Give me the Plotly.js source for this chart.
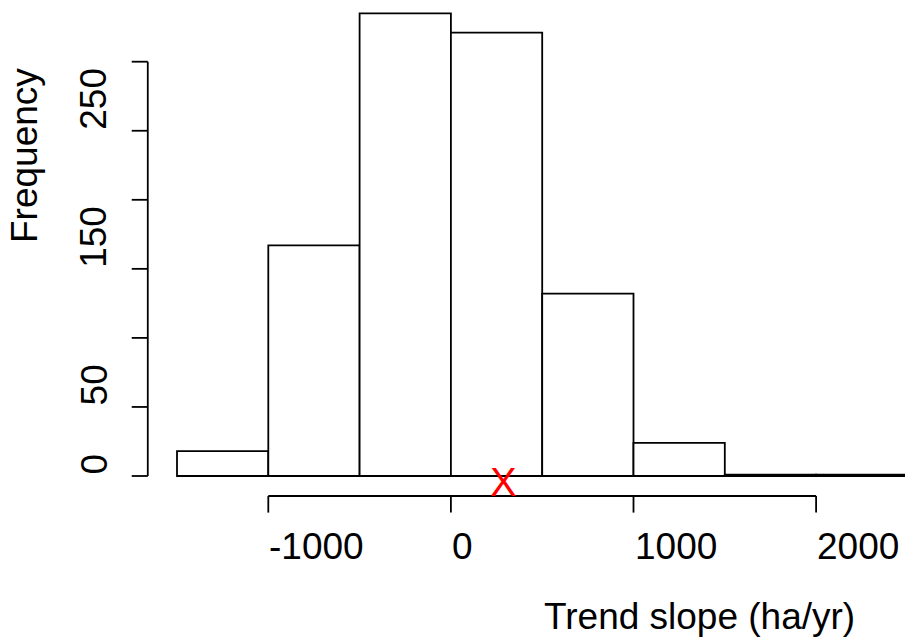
<!DOCTYPE html>
<html>
<head>
<meta charset="utf-8">
<script src="https://cdn.plot.ly/plotly-3.0.1.min.js"></script>
<style>html,body{margin:0;padding:0;background:#fff;} #chart{width:905px;height:639px;}</style>
</head>
<body>
<div id="chart"></div>
<script>
// ---- data ----
const breaks = [-1500, -1000, -500, 0, 500, 1000, 1500, 2000, 2500];
const counts = [18, 167, 335, 321, 132, 24, 1, 1];
const xTickVals = [-1000, 0, 1000, 2000];
const xTickLabels = ["-1000", "0", "1000", "2000"];
const yTickVals = [0, 50, 100, 150, 200, 250, 300];
const yLabelVals = [0, 50, 150, 250];
const yLabelText = ["0", "50", "150", "250"];
const markX = [290];
const markY = [0];
const markText = ["X"];
const xTitle = "Trend slope (ha/yr)";
const yTitle = "Frequency";

// ---- build ----
const W = 905, H = 639;
const FONT = "Liberation Sans, Arial, sans-serif";
const FS = 37;
const LW = 1.8;

const mids = [], widths = [];
for (let i = 0; i < counts.length; i++) {
  mids.push((breaks[i] + breaks[i + 1]) / 2);
  widths.push(breaks[i + 1] - breaks[i]);
}

const bars = {
  type: 'bar', x: mids, y: counts, width: widths,
  marker: {color: 'rgba(255,255,255,1)', line: {color: '#000', width: LW}},
  hoverinfo: 'skip', showlegend: false
};

const yAxisX = -1660;   // left edge of R plot region
const xAxisY = -14.5;   // bottom edge of R plot region
const yTickLen = 88;    // in x units
const xTickLen = 12;    // in y units

const shapes = [];
const lineStyle = {color: '#000', width: LW};
// y axis
shapes.push({type: 'line', xref: 'x', yref: 'y', x0: yAxisX, x1: yAxisX,
  y0: yTickVals[0], y1: yTickVals[yTickVals.length - 1], line: lineStyle});
yTickVals.forEach(v => shapes.push({type: 'line', xref: 'x', yref: 'y',
  x0: yAxisX - yTickLen, x1: yAxisX, y0: v, y1: v, line: lineStyle}));
// x axis
shapes.push({type: 'line', xref: 'x', yref: 'y', x0: xTickVals[0],
  x1: xTickVals[xTickVals.length - 1], y0: xAxisY, y1: xAxisY, line: lineStyle});
xTickVals.forEach(v => shapes.push({type: 'line', xref: 'x', yref: 'y',
  x0: v, x1: v, y0: xAxisY - xTickLen, y1: xAxisY, line: lineStyle}));

const annotations = [];
xTickVals.forEach((v, i) => annotations.push({
  xref: 'x', yref: 'paper', x: v, y: 1 - 546 / H, text: xTickLabels[i],
  xanchor: 'left', yanchor: 'middle', showarrow: false, borderpad: 0,
  font: {family: FONT, size: FS, color: '#000'}
}));
yLabelVals.forEach((v, i) => annotations.push({
  xref: 'paper', yref: 'y', x: 94 / W, y: v, text: yLabelText[i], textangle: -90,
  xanchor: 'center', yanchor: 'bottom', showarrow: false, borderpad: 0,
  font: {family: FONT, size: FS, color: '#000'}
}));
annotations.push({
  xref: 'paper', yref: 'paper', x: 543 / W, y: 1 - 616 / H, text: xTitle,
  xanchor: 'left', yanchor: 'middle', showarrow: false, borderpad: 0,
  font: {family: FONT, size: FS, color: '#000'}
});
annotations.push({
  xref: 'paper', yref: 'paper', x: 24.5 / W, y: 1 - 244 / H, text: yTitle, textangle: -90,
  xanchor: 'center', yanchor: 'bottom', showarrow: false, borderpad: 0,
  font: {family: FONT, size: FS, color: '#000'}
});
// red marker "X" at the observed value
markX.forEach((v, i) => annotations.push({
  xref: 'x', yref: 'y', x: v, y: markY[i], text: markText[i],
  xanchor: 'center', yanchor: 'middle', yshift: -6, showarrow: false, borderpad: 0,
  font: {family: FONT, size: 40, color: '#ff0000'}
}));

// pixel mapping: x -1000 -> 268.3px, 0.1826 px/unit; y 0 -> 476px, 1.381 px/unit
const xpx = 0.1826, x0px = 268.3, ypx = 1.381, y0px = 476;
const xr = [-1000 + (0 - x0px) / xpx, -1000 + (W - x0px) / xpx];
const yr = [(y0px - H) / ypx, (y0px - 0) / ypx];

const layout = {
  width: W, height: H,
  margin: {l: 0, r: 0, t: 0, b: 0, pad: 0},
  paper_bgcolor: '#fff', plot_bgcolor: '#fff',
  xaxis: {range: xr, visible: false, fixedrange: true},
  yaxis: {range: yr, visible: false, fixedrange: true},
  bargap: 0, shapes: shapes, annotations: annotations, showlegend: false
};

Plotly.newPlot('chart', [bars], layout, {staticPlot: true, displayModeBar: false});
</script>
</body>
</html>
